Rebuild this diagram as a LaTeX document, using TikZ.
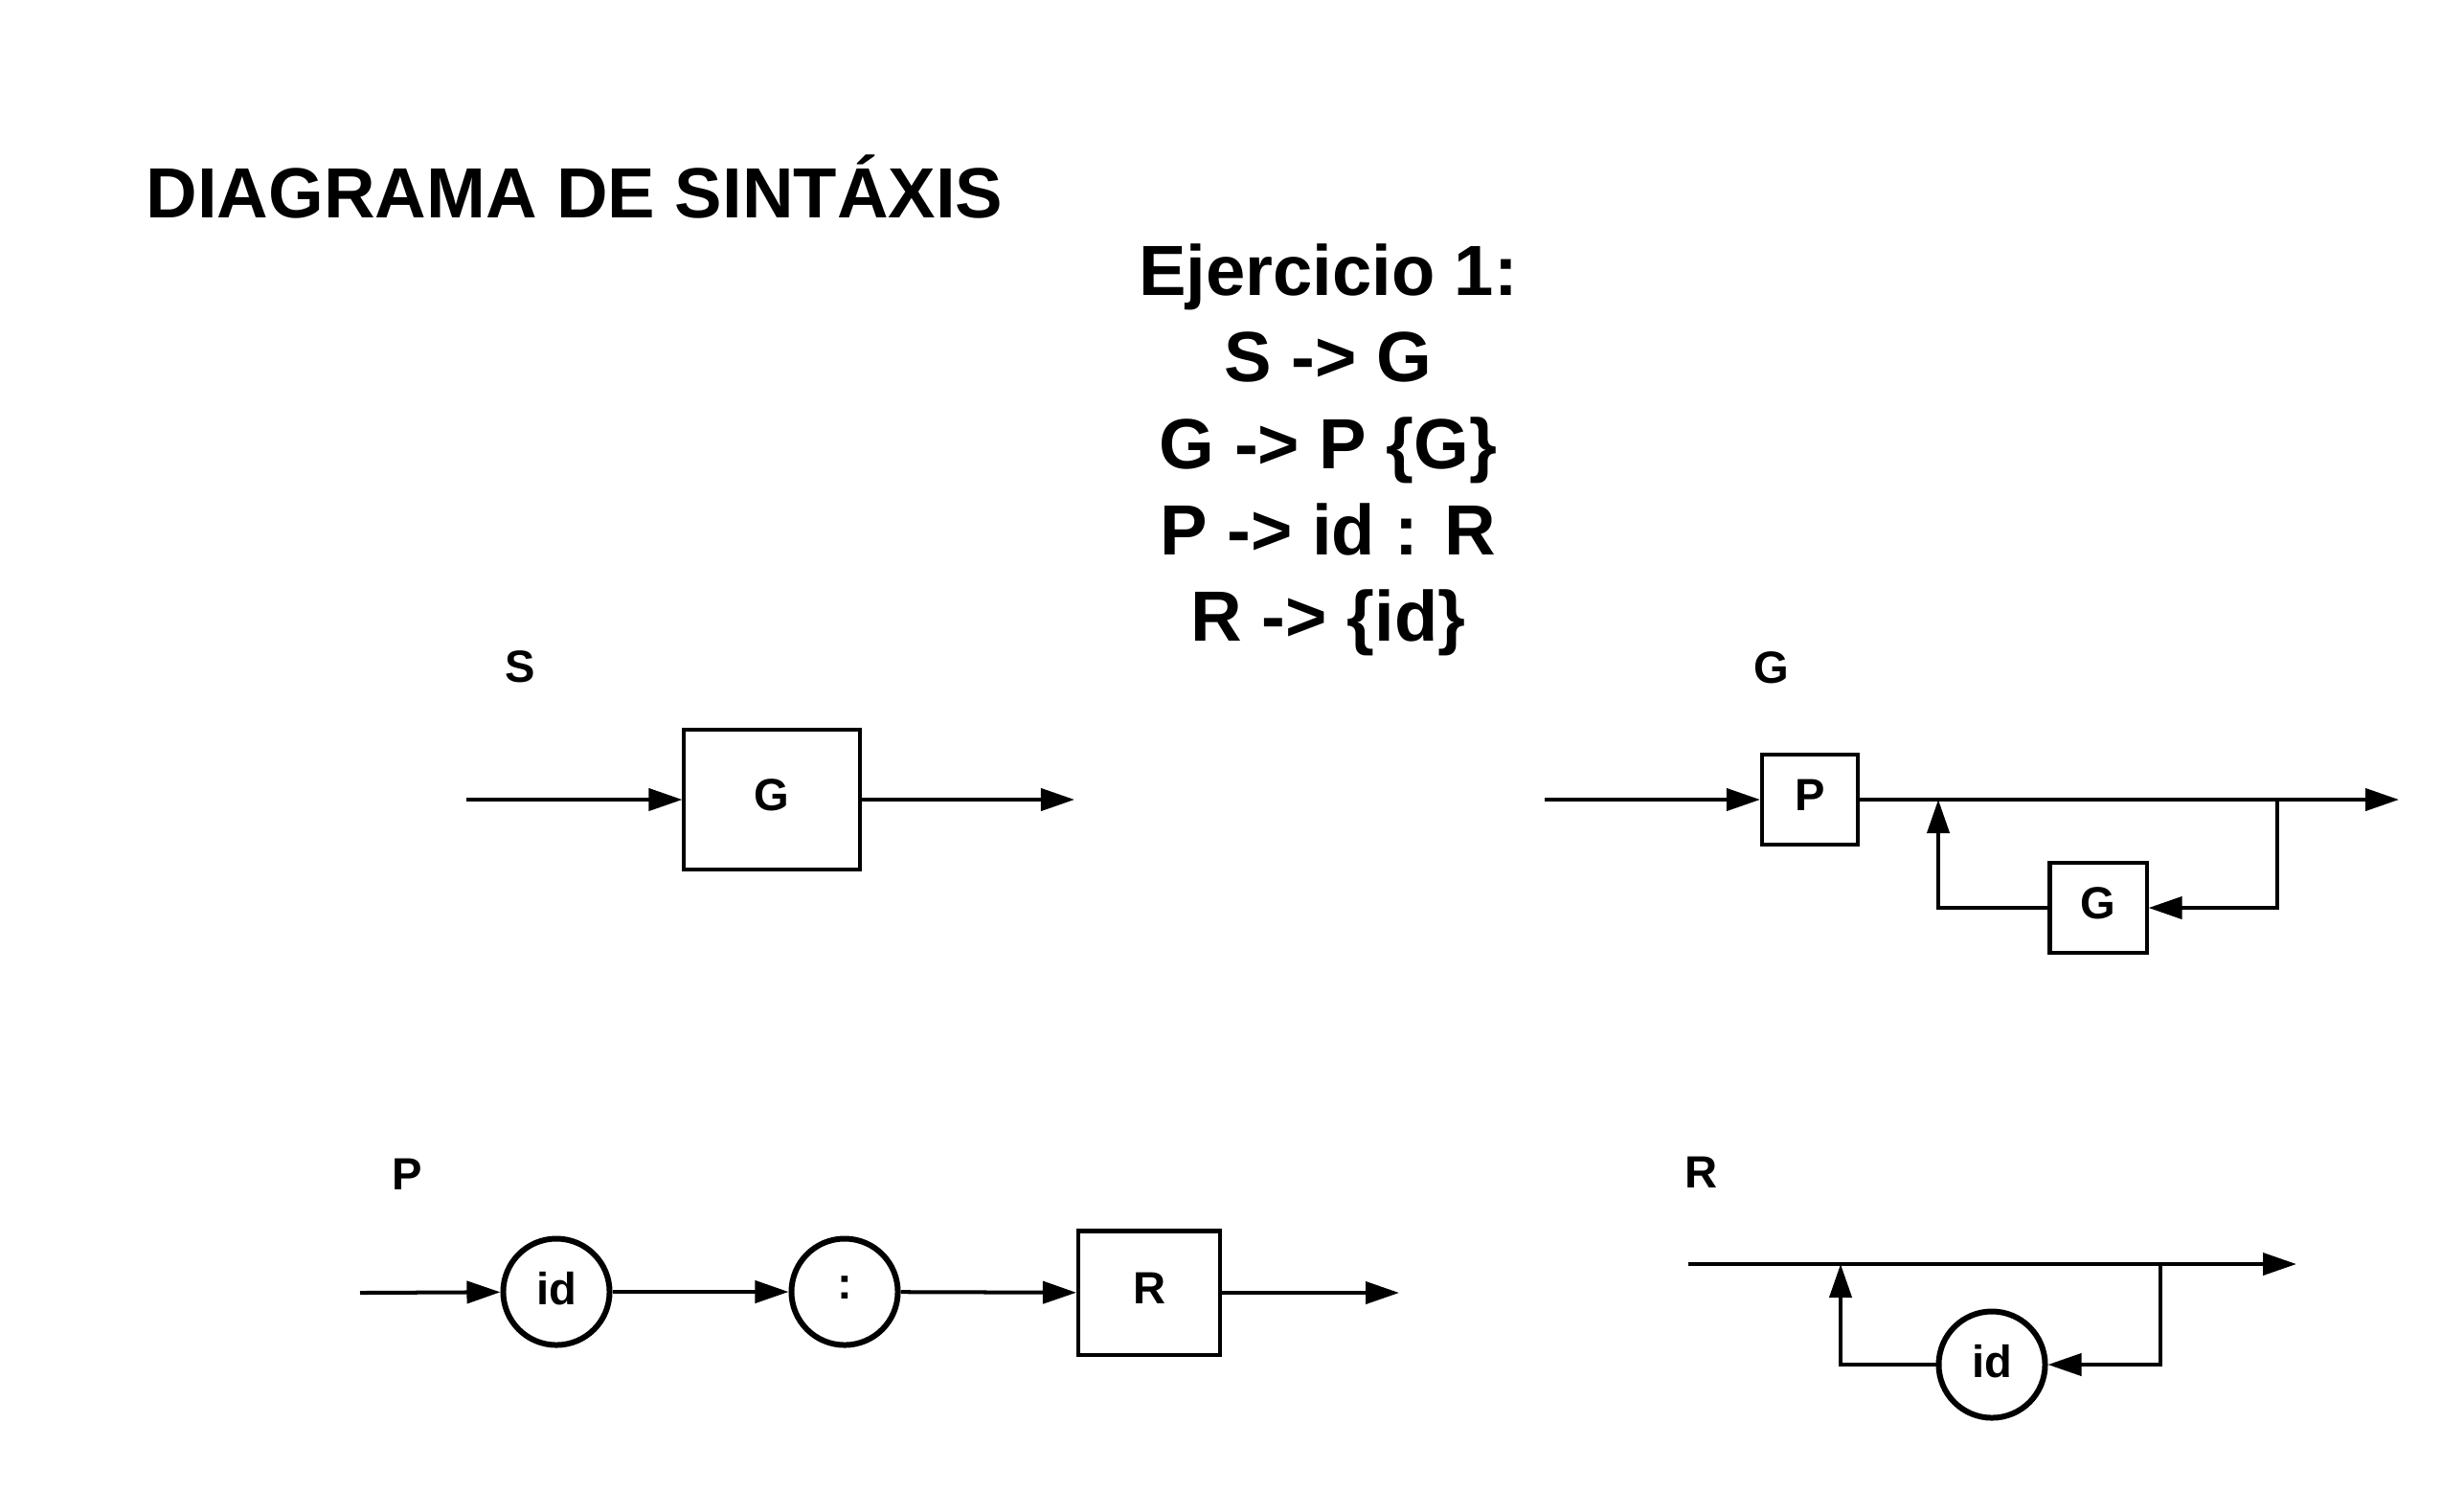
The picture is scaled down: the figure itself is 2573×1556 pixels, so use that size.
\documentclass[tikz,border=0pt]{standalone}
\usepackage{fontspec}
\setmainfont{Liberation Sans}
\usetikzlibrary{arrows.meta}
\newcommand\lblfont{\fontsize{13.4pt}{16pt}\selectfont\bfseries}
\newcommand\bigfont{\fontsize{21.1pt}{25.6pt}\selectfont\bfseries}
\tikzset{
  conn/.style={line width=1.14pt, -{Triangle[length=0.35cm,width=0.23cm]}},
  ntbox/.style={draw, line width=1.14pt, rectangle, inner sep=0pt, font=\lblfont, text depth=0.1cm},
  tcirc/.style={draw, line width=1.7pt, circle, inner sep=0pt, minimum size=1.11cm, font=\lblfont, text depth=0.08cm},
  lbl/.style={inner sep=0pt, font=\lblfont},
  bigtxt/.style={inner sep=0pt, font=\bigfont, anchor=base},
}
\begin{document}
\begin{tikzpicture}[x=0.01cm, y=-0.01cm]
\useasboundingbox (0,0) rectangle (2573,1556);

% titles
\node[bigtxt, anchor=base west] (title) at (152,227) {DIAGRAMA DE SINTÁXIS};
\node[bigtxt] (l1) at (1387,308) {Ejercicio 1:};
\node[bigtxt] (l2) at (1387,398) {S -> G};
\node[bigtxt] (l3) at (1387,489) {G -> P \{G\}};
\node[bigtxt] (l4) at (1387,579) {P -> id : R};
\node[bigtxt] (l5) at (1387,669) {R -> \{id\}};

% S diagram
\node[lbl] (Slbl) at (543,696) {S};
\coordinate (Sin) at (487,835);
\node[ntbox, minimum width=1.83cm, minimum height=1.46cm] (SG) at (806,835) {G};
\coordinate (Sout) at (1122,835);
\draw[conn] (Sin) -- (SG);
\draw[conn] (SG) -- (Sout);

% G diagram
\node[lbl] (Glbl) at (1850,697) {G};
\coordinate (Gin) at (1613,835);
\node[ntbox, minimum width=1.00cm, minimum height=0.94cm] (GP) at (1890,835) {P};
\coordinate (Gout) at (2505,835);
\coordinate (Gr) at (2378,835);
\coordinate (Gl) at (2024,835);
\node[ntbox, minimum width=1.01cm, minimum height=0.94cm] (GG) at (2191,948) {G};
\draw[conn] (Gin) -- (GP);
\draw[conn] (GP) -- (Gout);
\draw[conn] (Gr) |- (GG);
\draw[conn] (GG) -| (Gl);

% P diagram
\node[lbl] (Plbl) at (425,1226) {P};
\coordinate (Pin) at (376,1350);
\node[tcirc] (Pid) at (581,1349) {id};
\node[tcirc] (Pcol) at (882,1349) {:};
\node[ntbox, minimum width=1.48cm, minimum height=1.29cm] (PR) at (1200,1350) {R};
\coordinate (Pout) at (1461,1350);
\draw[conn] (Pin) -- (Pid);
\draw[conn] (Pid) -- (Pcol);
\draw[conn] (Pcol) -- (PR);
\draw[conn] (PR) -- (Pout);

% R diagram
\node[lbl] (Rlbl) at (1776,1224) {R};
\coordinate (Rin) at (1763,1320);
\coordinate (Rout) at (2398,1320);
\coordinate (Rr) at (2256,1320);
\coordinate (Rl) at (1922,1320);
\node[tcirc] (Rid) at (2080,1425) {id};
\draw[conn] (Rin) -- (Rout);
\draw[conn] (Rr) |- (Rid);
\draw[conn] (Rid) -| (Rl);
\end{tikzpicture}
\end{document}
